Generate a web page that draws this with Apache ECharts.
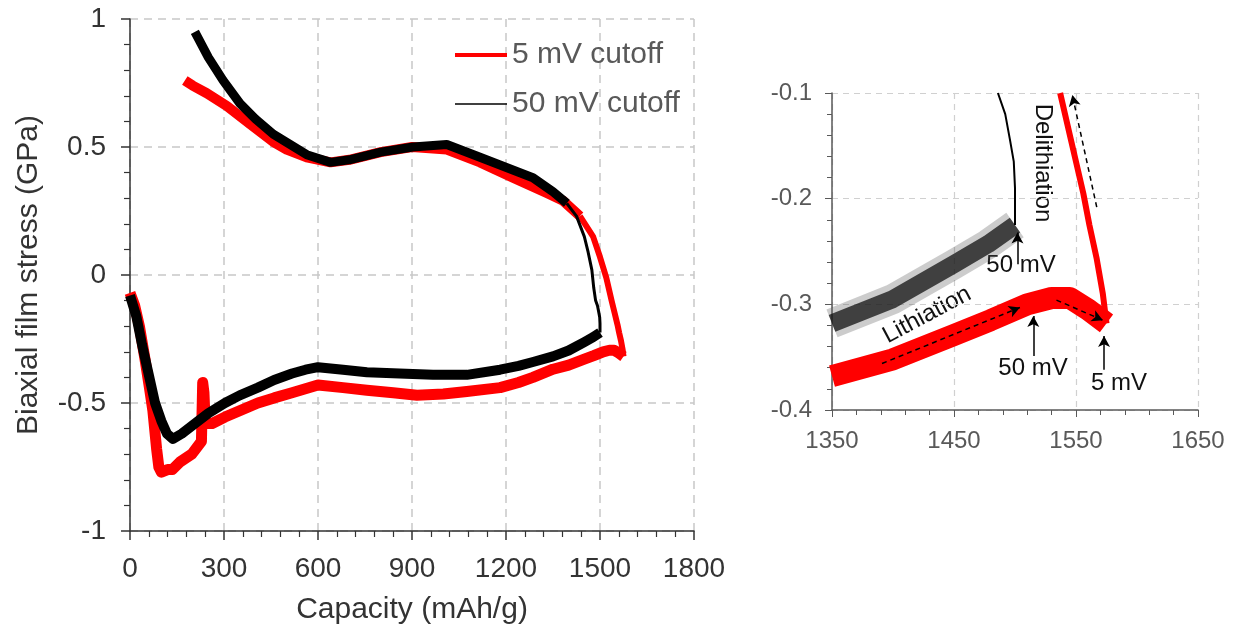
<!DOCTYPE html>
<html>
<head>
<meta charset="utf-8">
<script src="https://cdn.jsdelivr.net/npm/echarts@6.0.0/dist/echarts.min.js"></script>
<style>
html, body { margin: 0; padding: 0; background: #fff; }
#chart { width: 1235px; height: 630px; }
</style>
</head>
<body>
<div id="chart"></div>
<script>
/***
***/

// 5 mV cutoff, lithiation branch [capacity mAh/g, stress GPa]
var red5Lith = [
  [0, -0.07], [15, -0.12], [30, -0.2], [48, -0.33], [62, -0.44], [73, -0.53], [85, -0.68],
  [92, -0.75], [100, -0.77], [120, -0.76], [135, -0.76], [160, -0.73], [197, -0.7], [228, -0.65],
  [232, -0.42], [236, -0.46], [240, -0.58], [262, -0.58], [303, -0.555], [350, -0.53], [408, -0.5],
  [460, -0.48], [517, -0.46], [600, -0.43], [680, -0.44], [756, -0.45], [840, -0.46], [916, -0.47],
  [1000, -0.465], [1075, -0.455], [1181, -0.44], [1240, -0.42], [1286, -0.4], [1350, -0.368],
  [1400, -0.352], [1450, -0.329], [1480, -0.315], [1510, -0.3], [1530, -0.294], [1545, -0.294],
  [1560, -0.305], [1575, -0.318]
];

// 5 mV cutoff, delithiation branch
var red5Delith = [
  [1575, -0.318], [1572, -0.29], [1567, -0.257], [1561, -0.225], [1556, -0.195], [1546, -0.145],
  [1537, -0.1], [1520, -0.01], [1500, 0.07], [1478, 0.15], [1436, 0.23], [1382, 0.29], [1330, 0.32],
  [1222, 0.38], [1117, 0.44], [1011, 0.49], [900, 0.5], [800, 0.48], [700, 0.45], [640, 0.44],
  [564, 0.46], [500, 0.49], [457, 0.52], [383, 0.59], [309, 0.66], [245, 0.71],
  [200, 0.74], [175, 0.76]
];

// 50 mV cutoff, lithiation branch
var black50Lith = [
  [0, -0.08], [20, -0.16], [38, -0.27], [60, -0.39], [80, -0.5], [100, -0.57], [118, -0.62],
  [137, -0.64], [165, -0.62], [197, -0.59], [250, -0.54], [303, -0.5], [350, -0.47], [408, -0.44],
  [460, -0.41], [517, -0.385], [560, -0.37], [600, -0.36], [680, -0.37], [756, -0.38], [860, -0.385],
  [967, -0.39], [1075, -0.39], [1181, -0.37], [1240, -0.355], [1286, -0.34], [1350, -0.318],
  [1400, -0.295], [1450, -0.262], [1478, -0.243], [1500, -0.225]
];

// 50 mV cutoff, delithiation branch
var black50Delith = [
  [1500, -0.225], [1500, -0.19], [1499, -0.165], [1496, -0.145], [1492, -0.12], [1486, -0.1],
  [1480, -0.05], [1474, 0.02], [1462, 0.09], [1450, 0.15], [1425, 0.23], [1394, 0.28], [1350, 0.325],
  [1286, 0.38], [1222, 0.41], [1117, 0.46], [1011, 0.51], [903, 0.5], [800, 0.48], [700, 0.45],
  [640, 0.44], [564, 0.47], [457, 0.55], [400, 0.61], [351, 0.67], [297, 0.76],
  [250, 0.85], [207, 0.95]
];

// inset arrows, pairs of [capacity, stress]
var solidArrows = [
  [[1502, -0.262], [1502, -0.232]],
  [[1515, -0.349], [1515, -0.311]],
  [[1573, -0.362], [1573, -0.330]]
];
var dashedArrows = [
  [[1391, -0.356], [1504, -0.303]],
  [[1534, -0.296], [1572, -0.315]],
  [[1567, -0.208], [1547, -0.102]]
];

var FONT = 'Liberation Sans, Arial, sans-serif';

// the delithiation traces are quiet at the start and noisy later on
var RED_QUIET = 10;    // up to [1478, 0.15]
var BLACK_QUIET = 11;  // up to [1425, 0.23]

// inset window, so the wide bands do not spill past the axes
var INSET_X_MIN = 1350;
var INSET_Y_MAX = -0.1;

function inInset(list) {
  return list.filter(function (p) {
    return p[0] >= INSET_X_MIN && p[1] <= INSET_Y_MAX;
  });
}

function arrowPairs(list) {
  return list.map(function (p) {
    return [{ coord: p[0] }, { coord: p[1] }];
  });
}

function lineSeries(name, data, color, width, axis, opacity) {
  return {
    name: name,
    type: 'line',
    xAxisIndex: axis,
    yAxisIndex: axis,
    data: data,
    symbol: 'none',
    showSymbol: false,
    silent: true,
    lineStyle: { color: color, width: width, opacity: opacity || 1, join: 'round' },
    itemStyle: { color: color }
  };
}

function textEl(text, x, y, rot) {
  return {
    type: 'text',
    x: x,
    y: y,
    rotation: rot || 0,
    style: {
      text: text,
      font: '24px ' + FONT,
      fill: '#111',
      align: 'center',
      verticalAlign: 'middle',
      textAlign: 'center',
      textVerticalAlign: 'middle'
    }
  };
}

// one legend per entry so each icon gets its own thickness
function legendEntry(name, color, thick, top) {
  return {
    left: 455,
    top: top,
    padding: 0,
    itemWidth: 52,
    itemHeight: thick,
    icon: 'rect',
    selectedMode: false,
    itemStyle: { color: color },
    textStyle: { fontSize: 30, color: '#595959', fontFamily: FONT },
    data: [name]
  };
}

function plainNum(v) {
  return String(v);
}

var chart = echarts.init(document.getElementById('chart'));

var option = {
  animation: false,
  backgroundColor: '#fff',
  textStyle: { fontFamily: FONT },
  grid: [
    { left: 130, top: 19, width: 564, height: 512 },   // main plot
    { left: 832, top: 93, width: 366, height: 317 }    // inset
  ],
  legend: [
    legendEntry('5 mV cutoff', '#ff0000', 4, 40),
    legendEntry('50 mV cutoff', '#000', 1.5, 89)
  ],
  xAxis: [
    {
      gridIndex: 0, type: 'value', min: 0, max: 1800, interval: 300,
      name: 'Capacity (mAh/g)', nameLocation: 'middle', nameGap: 64,
      nameTextStyle: { fontSize: 30, color: '#333', fontFamily: FONT },
      axisLine: { onZero: false, lineStyle: { color: '#333', width: 1.5 } },
      axisTick: { length: 9, lineStyle: { color: '#333', width: 1.5 } },
      minorTick: { show: true, splitNumber: 5, length: 6, lineStyle: { color: '#333', width: 1.2 } },
      axisLabel: { fontSize: 28, color: '#333', margin: 24, formatter: plainNum },
      splitLine: { show: true, lineStyle: { color: '#c8c8c8', width: 1.5, type: [8, 6] } }
    },
    {
      gridIndex: 1, type: 'value', min: 1350, max: 1650, interval: 100,
      axisLine: { onZero: false, lineStyle: { color: '#595959', width: 1.5 } },
      axisTick: { length: 7, lineStyle: { color: '#595959' } },
      minorTick: { show: true, splitNumber: 5, length: 5, lineStyle: { color: '#595959' } },
      axisLabel: { fontSize: 24, color: '#595959', margin: 19, formatter: plainNum },
      splitLine: { show: true, lineStyle: { color: '#d0d0d0', width: 1.2, type: [6, 5] } }
    }
  ],
  yAxis: [
    {
      gridIndex: 0, type: 'value', min: -1, max: 1, interval: 0.5,
      name: 'Biaxial film stress (GPa)', nameLocation: 'middle', nameGap: 86,
      nameTextStyle: { fontSize: 30, color: '#333', fontFamily: FONT },
      axisLine: { onZero: false, lineStyle: { color: '#333', width: 1.5 } },
      axisTick: { length: 9, lineStyle: { color: '#333', width: 1.5 } },
      minorTick: { show: true, splitNumber: 5, length: 6, lineStyle: { color: '#333', width: 1.2 } },
      axisLabel: { fontSize: 28, color: '#333', margin: 24 },
      splitLine: { show: true, lineStyle: { color: '#c8c8c8', width: 1.5, type: [8, 6] } }
    },
    {
      gridIndex: 1, type: 'value', min: -0.4, max: -0.1, interval: 0.1,
      axisLine: { onZero: false, lineStyle: { color: '#595959', width: 1.5 } },
      axisTick: { length: 7, lineStyle: { color: '#595959' } },
      minorTick: { show: true, splitNumber: 5, length: 5, lineStyle: { color: '#595959' } },
      axisLabel: {
        fontSize: 24, color: '#595959', margin: 20,
        formatter: function (v) { return v.toFixed(1); }
      },
      splitLine: { show: true, lineStyle: { color: '#d0d0d0', width: 1.2, type: [6, 5] } }
    }
  ],
  series: [
    // main plot - red under black, noise shown as band width
    lineSeries('5 mV cutoff', red5Lith, '#ff0000', 11, 0),
    lineSeries('5 mV cutoff', red5Delith.slice(0, RED_QUIET + 1), '#ff0000', 6, 0),
    lineSeries('5 mV cutoff', red5Delith.slice(RED_QUIET), '#ff0000', 10, 0),
    lineSeries('50 mV cutoff', black50Lith, '#000', 10, 0),
    lineSeries('50 mV cutoff', black50Delith.slice(0, BLACK_QUIET + 1), '#000', 3, 0),
    lineSeries('50 mV cutoff', black50Delith.slice(BLACK_QUIET), '#000', 9, 0),
    // inset, same data zoomed
    lineSeries('5 mV cutoff', inInset(red5Lith), '#ff0000', 22, 1),
    lineSeries('5 mV cutoff', inInset(red5Delith), '#ff0000', 6, 1),
    lineSeries('50 mV cutoff', inInset(black50Lith), '#555', 30, 1, 0.3),
    lineSeries('50 mV cutoff', inInset(black50Lith), '#111', 18, 1, 0.75),
    lineSeries('50 mV cutoff', inInset(black50Delith), '#000', 2, 1),
    {
      type: 'line', xAxisIndex: 1, yAxisIndex: 1, data: [], silent: true,
      markLine: {
        silent: true, animation: false,
        symbol: ['none', 'arrow'], symbolSize: [9, 11],
        label: { show: false },
        lineStyle: { color: '#000', width: 1.5, type: 'solid' },
        emphasis: { disabled: true },
        data: arrowPairs(solidArrows)
      }
    },
    {
      type: 'line', xAxisIndex: 1, yAxisIndex: 1, data: [], silent: true,
      markLine: {
        silent: true, animation: false,
        symbol: ['none', 'arrow'], symbolSize: [9, 11],
        label: { show: false },
        lineStyle: { color: '#000', width: 1.5, type: [5, 4] },
        emphasis: { disabled: true },
        data: arrowPairs(dashedArrows)
      }
    }
  ],
  graphic: [
    textEl('Delithiation', 1043, 163, -Math.PI / 2),
    textEl('Lithiation', 927, 315, 28 * Math.PI / 180),
    textEl('50 mV', 1021, 265),
    textEl('50 mV', 1033, 368),
    textEl('5 mV', 1119, 383)
  ]
};

chart.setOption(option);
</script>
</body>
</html>
